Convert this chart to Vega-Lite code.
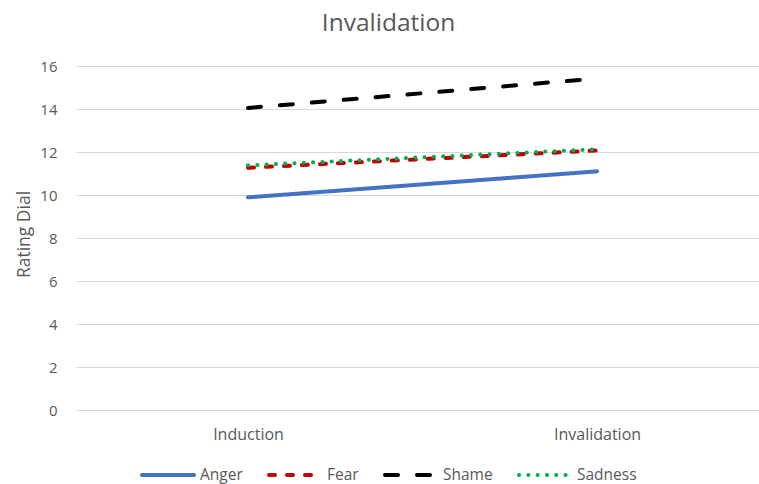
{
  "$schema": "https://vega.github.io/schema/vega-lite/v6.json",
  "width": 683,
  "height": 344,
  "autosize": "none",
  "padding": {"left": 76, "top": 66, "right": 0, "bottom": 74},
  "background": "white",
  "title": {"text": "Invalidation", "fontSize": 24.5, "font": "Open Sans", "fontWeight": "normal", "color": "#595959", "dx": -29, "offset": 23},
  "config": {"view": {"stroke": null}, "font": "Open Sans"},
  "data": {"values": [
    {"series": "Anger", "phase": "Induction", "value": 9.89},
    {"series": "Anger", "phase": "Invalidation", "value": 11.1},
    {"series": "Shame", "phase": "Induction", "value": 14.05},
    {"series": "Shame", "phase": "Invalidation", "value": 15.42},
    {"series": "Fear", "phase": "Induction", "value": 11.27},
    {"series": "Fear", "phase": "Invalidation", "value": 12.07},
    {"series": "Sadness", "phase": "Induction", "value": 11.38},
    {"series": "Sadness", "phase": "Invalidation", "value": 12.13}
  ]},
  "mark": {"type": "line", "strokeWidth": 4, "strokeCap": "round"},
  "encoding": {
    "x": {"field": "phase", "type": "nominal", "sort": ["Induction", "Invalidation"],
      "scale": {"type": "point", "padding": 0.4785, "align": 0.515},
      "axis": {"title": null, "labelAngle": 0, "domain": false, "ticks": false, "labelPadding": 16, "labelFontSize": 16, "labelColor": "#595959"}},
    "y": {"field": "value", "type": "quantitative", "scale": {"domain": [0, 16]},
      "axis": {"title": "Rating Dial", "values": [0, 2, 4, 6, 8, 10, 12, 14, 16], "domain": false, "ticks": false, "labelPadding": 19, "labelFontSize": 15, "labelColor": "#595959", "gridColor": "#d9d9d9", "gridWidth": 1,
        "titleFontSize": 17.5, "titleFontWeight": "normal", "titleColor": "#595959", "titleX": -52, "titleY": 168, "titleAngle": -90, "titleAlign": "center", "titleBaseline": "middle"}},
    "color": {"field": "series", "type": "nominal",
      "scale": {"domain": ["Anger", "Fear", "Shame", "Sadness"], "range": ["#4472C4", "#C00000", "#000000", "#00B050"]},
      "legend": {"title": null, "orient": "none", "legendX": 64, "legendY": 399, "direction": "horizontal", "columns": 4, "columnPadding": 24, "clipHeight": 20, "symbolType": "stroke", "symbolSize": 2704, "symbolStrokeWidth": 4, "labelFontSize": 15.5, "labelColor": "#595959", "labelOffset": 4,
        "encode": {"symbols": {"update": {"strokeCap": {"value": "round"}}}}}},
    "strokeDash": {"field": "series", "type": "nominal",
      "scale": {"domain": ["Anger", "Fear", "Shame", "Sadness"], "range": [[1, 0], [6, 12], [13, 19], [0.1, 9.2]]},
      "legend": {"title": null}},
    "order": {"field": "series"}
  }
}
